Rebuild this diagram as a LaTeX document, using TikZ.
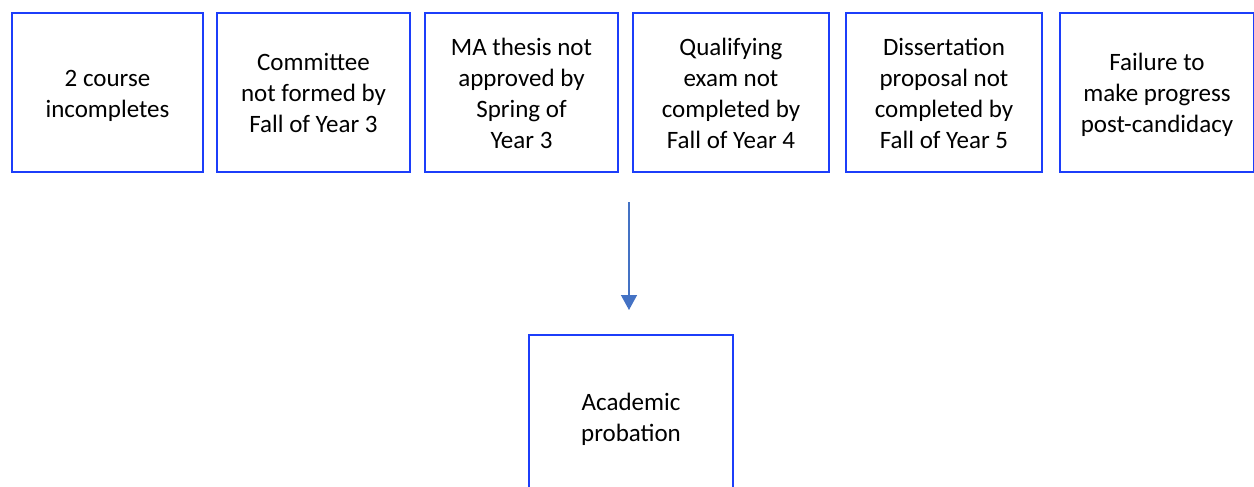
\documentclass[tikz,border=0pt]{standalone}
\usepackage{fontspec}
\setmainfont{Carlito}
\usetikzlibrary{arrows.meta}
\definecolor{boxblue}{RGB}{28,62,250}
\definecolor{arrowblue}{RGB}{68,114,196}
% centred lines of a box label, set a little below the box centre
\newcommand{\boxlines}[1]{\raisebox{-3pt}[\height][\depth]{\begin{tabular}{@{}c@{}}#1\end{tabular}}}
\begin{document}
\begin{tikzpicture}[x=1pt,y=-1pt,
  reason/.style={draw=boxblue, line width=2.8pt, rectangle, inner sep=0pt,
    minimum height=159pt, text=black,
    font=\fontsize{25}{31}\selectfont},
  flow/.style={draw=arrowblue, line width=1.4pt,
    -{Triangle[length=15pt,width=16pt]}}]
\useasboundingbox (0,0) rectangle (1254,487);
\clip (0,0) rectangle (1254,487);
\node[reason, minimum width=191pt] (r1) at (107.5,92.5) {\boxlines{2 course\\incompletes}};
\node[reason, minimum width=193pt] (r2) at (313.5,92.5) {\boxlines{Committee\\not formed by\\Fall of Year 3}};
\node[reason, minimum width=193pt] (r3) at (521.5,92.5) {\boxlines{MA thesis not\\approved by\\Spring of\\Year 3}};
\node[reason, minimum width=196pt] (r4) at (731,92.5) {\boxlines{Qualifying\\exam not\\completed by\\Fall of Year 4}};
\node[reason, minimum width=196pt] (r5) at (944,92.5) {\boxlines{Dissertation\\proposal not\\completed by\\Fall of Year 5}};
\node[reason, minimum width=194pt] (r6) at (1157,92.5) {\boxlines{Failure to\\make progress\\post-candidacy}};
\node[reason, minimum width=204pt, minimum height=164pt] (prob) at (631,417) {\boxlines{Academic\\probation}};
\coordinate (from) at (629,202);
\coordinate (to) at (629,310);
\draw[flow] (from) -- (to);
\end{tikzpicture}
\end{document}
